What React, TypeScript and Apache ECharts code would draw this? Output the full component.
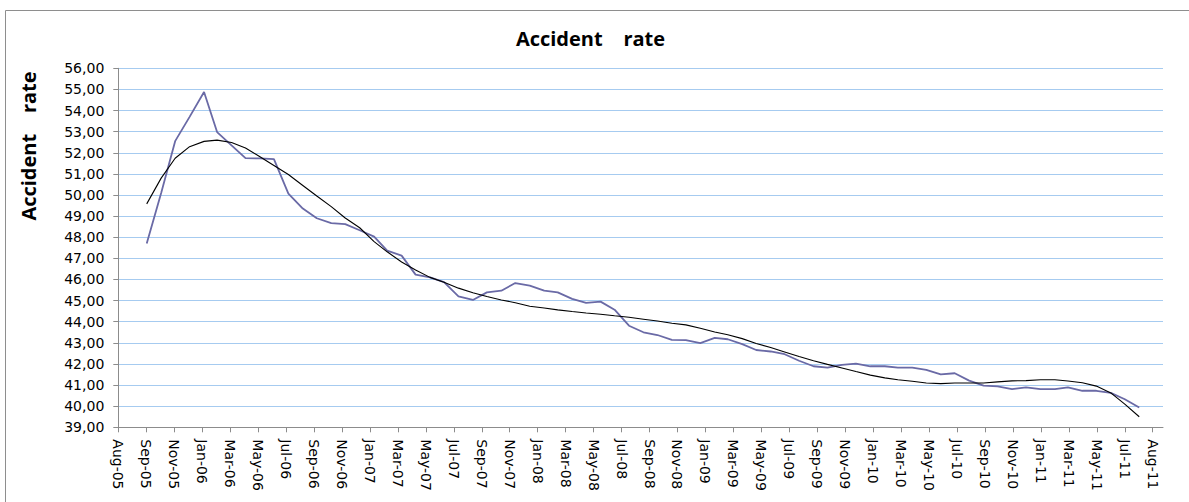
import React, { useEffect, useRef } from "react";
import * as echarts from "echarts";

// Tick labels of the date axis (one tick every 60 days starting 1 Aug 2005)
const tickLabels = [
  "Aug-05", "Sep-05", "Nov-05", "Jan-06", "Mar-06", "May-06", "Jul-06", "Sep-06",
  "Nov-06", "Jan-07", "Mar-07", "May-07", "Jul-07", "Sep-07", "Nov-07", "Jan-08",
  "Mar-08", "May-08", "Jul-08", "Sep-08", "Nov-08", "Jan-09", "Mar-09", "May-09",
  "Jul-09", "Sep-09", "Nov-09", "Jan-10", "Mar-10", "May-10", "Jul-10", "Sep-10",
  "Nov-10", "Jan-11", "Mar-11", "May-11", "Jul-11", "Aug-11",
];
const TICK_STEP_DAYS = 60;
const AXIS_MAX_DAYS = 2242;

// Monthly observations: first one on 1 Oct 2005 (month index 9), 71 months
const firstYear = 2005;
const firstMonthIndex = 9;

const accidentRate = [
  47.7, 50.1, 52.55, 53.7, 54.88, 52.98, 52.35, 51.75, 51.73, 51.7,
  50.07, 49.36, 48.9, 48.67, 48.62, 48.33, 48.03, 47.37, 47.13, 46.23,
  46.1, 45.87, 45.2, 45.03, 45.39, 45.47, 45.83, 45.71, 45.47, 45.39,
  45.08, 44.89, 44.95, 44.57, 43.81, 43.5, 43.37, 43.14, 43.13, 42.99,
  43.23, 43.17, 42.94, 42.66, 42.59, 42.46, 42.15, 41.89, 41.83, 41.96,
  42.02, 41.89, 41.89, 41.83, 41.83, 41.72, 41.51, 41.56, 41.21, 40.97,
  40.94, 40.81, 40.89, 40.81, 40.81, 40.89, 40.73, 40.73, 40.63, 40.33,
  39.94,
];

const trend = [
  49.58, 50.8, 51.74, 52.29, 52.54, 52.6, 52.49, 52.23, 51.81, 51.4,
  50.97, 50.45, 49.95, 49.45, 48.91, 48.45, 47.79, 47.31, 46.83, 46.45,
  46.1, 45.87, 45.59, 45.37, 45.19, 45.03, 44.9, 44.73, 44.65, 44.56,
  44.48, 44.41, 44.35, 44.28, 44.21, 44.12, 44.03, 43.93, 43.85, 43.69,
  43.51, 43.38, 43.2, 42.97, 42.78, 42.57, 42.35, 42.15, 41.98, 41.81,
  41.64, 41.47, 41.34, 41.25, 41.18, 41.1, 41.07, 41.1, 41.1, 41.1,
  41.15, 41.2, 41.21, 41.25, 41.25, 41.19, 41.11, 40.95, 40.63, 40.1,
  39.5,
];

const yTicks = { min: 39, max: 56, step: 1 };

const DAY = 86400000;
const axisOrigin = Date.UTC(2005, 7, 1);
const dayOffset = (i: number) =>
  Math.round((Date.UTC(firstYear, firstMonthIndex + i, 1) - axisOrigin) / DAY);

const tickValues = tickLabels.map((_, k) => k * TICK_STEP_DAYS);

export default function App() {
  const ref = useRef<HTMLDivElement>(null);

  useEffect(() => {
    if (!ref.current) return;
    const chart = echarts.init(ref.current, undefined, { renderer: "svg" });
    const tickFont = { fontFamily: "DejaVu Sans", fontSize: 14, color: "#000" };
    chart.setOption({
      animation: false,
      backgroundColor: "#fff",
      grid: { left: 118.3, right: 26, top: 68.3, bottom: 74.7, containLabel: false },
      xAxis: {
        type: "value",
        min: 0,
        max: AXIS_MAX_DAYS,
        splitLine: { show: false },
        axisLine: { show: true, lineStyle: { color: "#8c8c8c", width: 1 } },
        axisTick: { show: true, length: 5, customValues: tickValues, lineStyle: { color: "#8c8c8c" } },
        axisLabel: {
          ...tickFont,
          customValues: tickValues,
          rotate: -90,
          margin: 12,
          formatter: (v: number) => tickLabels[Math.round(v / TICK_STEP_DAYS)] ?? "",
        },
      },
      yAxis: {
        type: "value",
        min: yTicks.min,
        max: yTicks.max,
        interval: yTicks.step,
        axisLine: { show: true, lineStyle: { color: "#8c8c8c", width: 1 } },
        axisTick: { show: true, length: 5, lineStyle: { color: "#8c8c8c" } },
        splitLine: { show: true, lineStyle: { color: "#a6cbf0", width: 1 } },
        axisLabel: {
          ...tickFont,
          margin: 14,
          formatter: (v: number) => v.toFixed(2).replace(".", ","),
        },
      },
      series: [
        {
          name: "Accident rate",
          type: "line",
          showSymbol: false,
          data: accidentRate.map((v, i) => [dayOffset(i), v]),
          lineStyle: { color: "#6a6aa6", width: 1.8 },
          itemStyle: { color: "#6a6aa6" },
          z: 2,
        },
        {
          name: "Trend",
          type: "line",
          showSymbol: false,
          data: trend.map((v, i) => [dayOffset(i), v]),
          lineStyle: { color: "#000", width: 1.1 },
          itemStyle: { color: "#000" },
          z: 3,
        },
      ],
      graphic: [
        {
          type: "rect",
          silent: true,
          shape: { x: 5.5, y: 10.5, width: 1300, height: 700 },
          style: { fill: "none", stroke: "#8e8e8e", lineWidth: 1 },
        },
        {
          type: "text",
          x: 590.5,
          y: 38.5,
          style: {
            text: "Accident    rate",
            font: 'bold 20px "Open Sans"',
            fill: "#000",
            textAlign: "center",
            textVerticalAlign: "middle",
          },
        },
        {
          type: "text",
          x: 28,
          y: 146,
          rotation: Math.PI / 2,
          style: {
            text: "Accident    rate",
            font: 'bold 20px "Open Sans"',
            fill: "#000",
            textAlign: "center",
            textVerticalAlign: "middle",
          },
        },
      ],
    });
    return () => chart.dispose();
  }, []);

  return (
    <div
      ref={ref}
      style={{ position: "fixed", left: 0, top: 0, width: 1189, height: 502 }}
    />
  );
}
